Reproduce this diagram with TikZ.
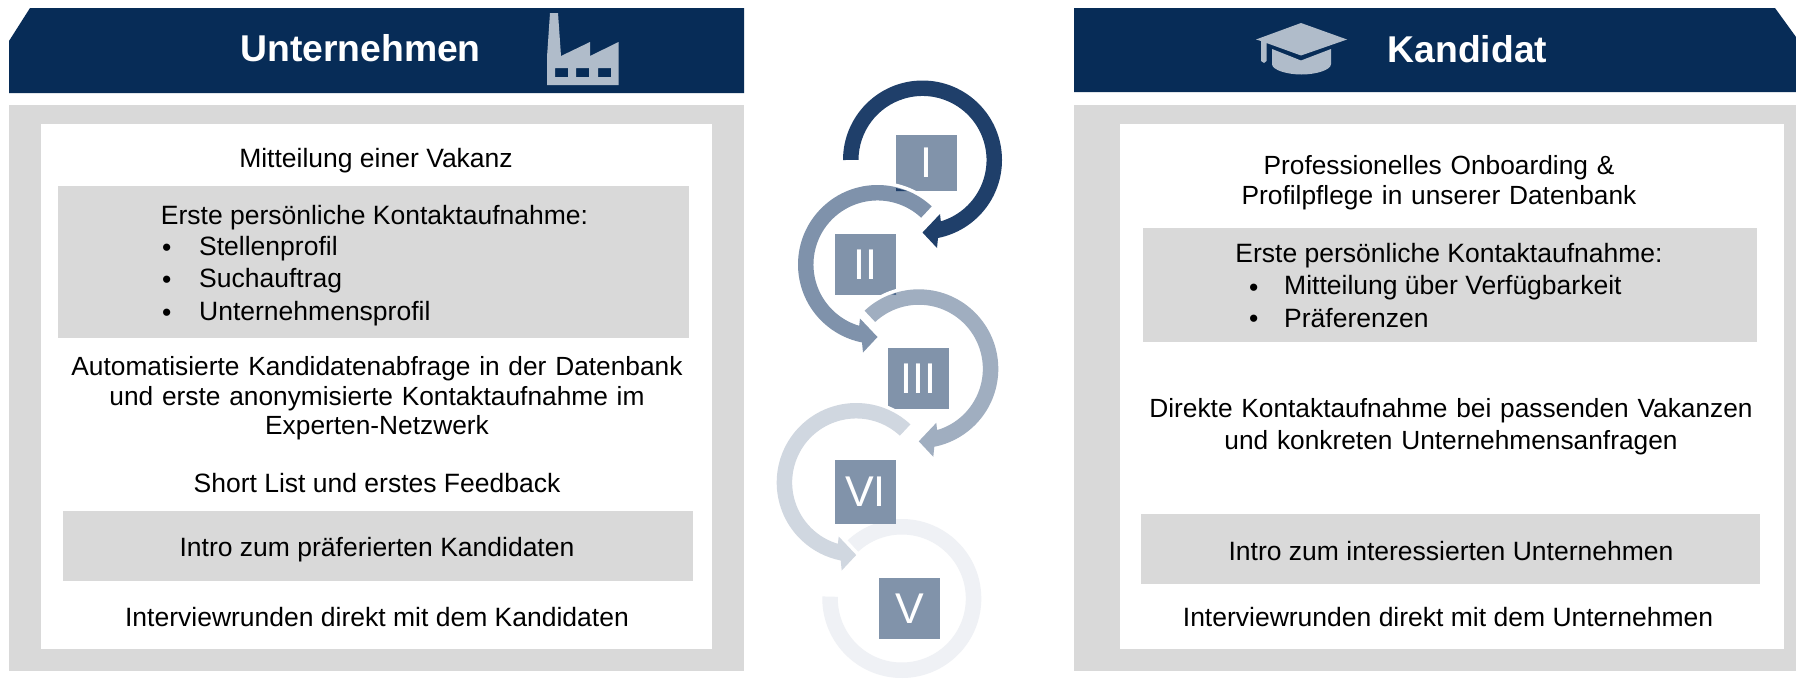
\documentclass[tikz,border=0pt]{standalone}
\usepackage{fontspec}
\setmainfont{Liberation Sans}
\definecolor{navy}{HTML}{072C57}
\definecolor{iconc}{HTML}{B0BCCA}
\definecolor{panelc}{HTML}{D9D9D9}
\definecolor{boxc}{HTML}{8193AA}
\definecolor{ringa}{HTML}{1F3F6A}
\definecolor{ringb}{HTML}{7F92AB}
\definecolor{ringc}{HTML}{A0AEC0}
\definecolor{ringd}{HTML}{D0D7E0}
\definecolor{ringe}{HTML}{EFF1F5}
\definecolor{bitc}{HTML}{4F6A8E}
\tikzset{
  txt/.style={font=\fontsize{26.5}{32}\selectfont,text=black,inner sep=0pt,align=center,anchor=center},
  head/.style={font=\fontsize{37.3}{44}\selectfont\bfseries,text=white,inner sep=0pt,anchor=center},
  bul/.style={txt,anchor=west},
  numbox/.style={fill=boxc,text=white,inner sep=0pt,font=\fontsize{43}{50}\selectfont,anchor=center},
  panel/.style={fill=panelc},
  sheet/.style={fill=white},
  ringhalo/.style={draw=white,line width=7pt,line join=miter}
}
% #1 cx, #2 cy, #3 colour, #4 xscale, #5 start angle
\newcommand{\ringarrow}[5]{%
\begin{scope}[shift={(#1,#2)},x=1pt,y=1pt,xscale=#4]
\path[ringhalo,fill=#3] (#5:79.5) arc[start angle=#5,end angle=-78.76,radius=79.5]
 -- (14.5,-88) -- (0,-72.5) -- (17.5,-54) -- (18.3,-61.3)
 arc[start angle=-73.4,end angle=#5,radius=64] -- cycle;
\fill[#3] (#5:79.5) arc[start angle=#5,end angle=-78.76,radius=79.5]
 -- (14.5,-88) -- (0,-72.5) -- (17.5,-54) -- (18.3,-61.3)
 arc[start angle=-73.4,end angle=#5,radius=64] -- cycle;
\end{scope}}
% #1 name, #2 x0, #3 y0, #4 x1, #5 y1, #6 text
\newcommand{\numbox}[6]{%
\fill[boxc] (#2,#3) rectangle (#4,#5);
\node[numbox] (#1) at ({(#2+#4)/2},{(#3+#5)/2}) {#6};}
\begin{document}
\begin{tikzpicture}[x=1pt,y=-1pt]
\useasboundingbox (0,0) rectangle (1796,678);
\fill[white] (0,0) rectangle (1796,678);
% headers
\fill[navy] (30,8) -- (744,8) -- (744,93) -- (9,93) -- (9,41) -- cycle;
\fill[navy] (1074,8) -- (1775,8) -- (1796,37) -- (1796,92) -- (1074,92) -- cycle;
\node[head] (hleft) at (360.5,48) {Unternehmen};
\node[head] (hright) at (1467.5,49) {Kandidat};
% factory
\fill[iconc,even odd rule] (550,13) -- (558,13) -- (561,56) -- (590,42) -- (590,56) -- (618.5,42) -- (618.5,85) -- (547,85) -- (547,57) -- cycle
 (555,68) rectangle (568,77) (576,68) rectangle (589,77) (598,68) rectangle (611,77);
% cap
\fill[iconc] (1272,49) -- (1301,60.5) -- (1331,49) -- (1331,64) .. controls (1331,70) and (1316,74.5) .. (1301.5,74.5) .. controls (1287,74.5) and (1272,70) .. (1272,64) -- cycle;
\fill[iconc] (1256,39.5) -- (1301,23) -- (1347,39.5) -- (1301,55.5) -- (1266.5,43) -- (1266.5,61) -- (1264,63) -- (1261,61) -- (1261,41) -- cycle;
% panels
\fill[panel] (9,105) rectangle (744,671);
\fill[sheet] (41,124) rectangle (712,649);
\fill[panel] (58,186) rectangle (689,338);
\fill[panel] (63,511) rectangle (693,581);
\fill[panel] (1074,105) rectangle (1796,671);
\fill[sheet] (1120,124) rectangle (1784,649);
\fill[panel] (1143,228) rectangle (1757,342);
\fill[panel] (1141,514) rectangle (1760,584);
% left text
\node[txt] (l1) at (376,161) {Mitteilung einer Vakanz};
\node[txt] (l2) at (374.5,217.5) {Erste persönliche Kontaktaufnahme:};
\node[bul] (l3b) at (162,250) {•}; \node[bul] (l3) at (199,249) {Stellenprofil};
\node[bul] (l4b) at (162,282) {•}; \node[bul] (l4) at (199,281) {Suchauftrag};
\node[bul] (l5b) at (162,315) {•}; \node[bul] (l5) at (199,314) {Unternehmensprofil};
\node[txt,text width=640pt,font=\fontsize{26.3}{29.4}\selectfont] (l6) at (377,398.5) {Automatisierte Kandidatenabfrage in der Datenbank\\und erste anonymisierte Kontaktaufnahme im\\Experten-Netzwerk};
\node[txt] (l7) at (377,483) {Short List und erstes Feedback};
\node[txt] (l8) at (377,550) {Intro zum präferierten Kandidaten};
\node[txt] (l9) at (377,617) {Interviewrunden direkt mit dem Kandidaten};
% right text
\node[txt,text width=640pt,font=\fontsize{26.3}{30}\selectfont] (r1) at (1439,183) {Professionelles Onboarding \&\\Profilpflege in unserer Datenbank};
\node[txt] (r2) at (1449,256) {Erste persönliche Kontaktaufnahme:};
\node[bul] (r3b) at (1249,290) {•}; \node[bul] (r3) at (1284,288) {Mitteilung über Verfügbarkeit};
\node[bul] (r4b) at (1249,321) {•}; \node[bul] (r4) at (1284,318) {Präferenzen};
\node[txt,text width=640pt,font=\fontsize{26.3}{32}\selectfont] (r5) at (1451,426.5) {Direkte Kontaktaufnahme bei passenden Vakanzen\\und konkreten Unternehmensanfragen};
\node[txt] (r6) at (1451,551) {Intro zum interessierten Unternehmen};
\node[txt] (r7) at (1448,617) {Interviewrunden direkt mit dem Unternehmen};
% cycle
\ringarrow{922.5}{160}{ringa}{1}{180}
\numbox{bI}{896}{135}{957}{191}{I}
\ringarrow{877.5}{264.5}{ringb}{-1}{133}
\fill[ringa] (896,188) -- (907,191) -- (896,191) -- cycle;
\numbox{bII}{835}{234}{896}{295}{II}
\ringarrow{918.8}{368.8}{ringc}{1}{133}
\fill[bitc] (892,294.5) -- (896,292.8) -- (896,295) -- cycle;
\numbox{bIII}{888}{348}{949}{409}{III}
\begin{scope}[shift={(901.8,598.5)},x=1pt,y=1pt]
\fill[ringe] (133:79.5) arc[start angle=133,end angle=-181.5,radius=79.5] -- (-181.5:64) arc[start angle=-181.5,end angle=133,radius=64] -- cycle;
\end{scope}
\ringarrow{856.2}{482.5}{ringd}{-1}{133}
\numbox{bVI}{835}{460}{896}{524}{VI}
\numbox{bV}{879}{578}{940}{639}{V}
\end{tikzpicture}
\end{document}
